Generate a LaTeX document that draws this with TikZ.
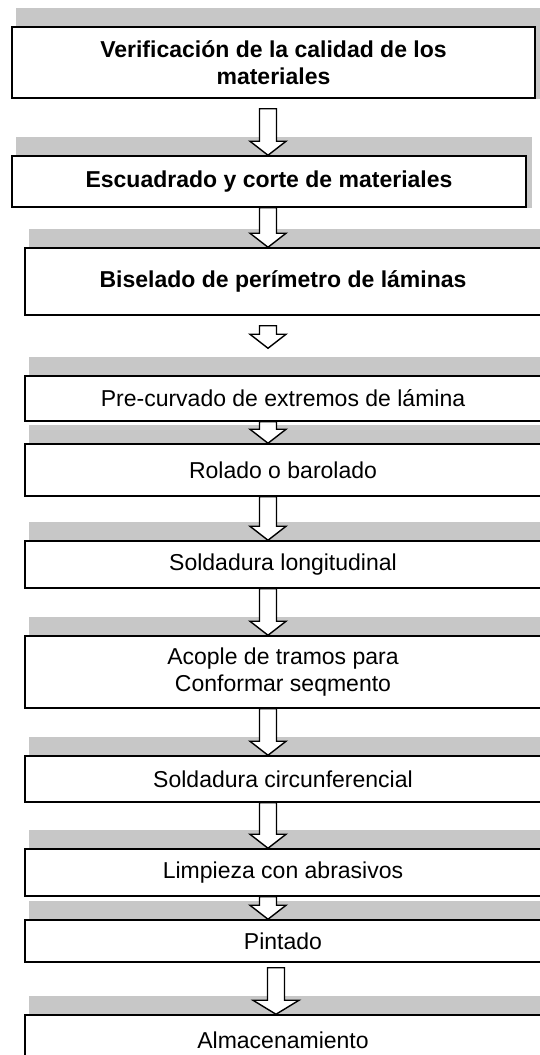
\documentclass[tikz,border=0pt]{standalone}
\usepackage{fontspec}
\setmainfont{Liberation Sans}
\usetikzlibrary{calc,backgrounds}
\tikzset{
  paso/.style={draw, line width=1.5pt, fill=white, inner sep=0pt, align=center, font=\fontsize{23}{27}\selectfont},
  pasob/.style={paso, font=\bfseries\fontsize{23}{27}\selectfont},
  franja/.style={fill=black!22},
  flecha/.style={draw, line width=1.4pt, fill=white, to path={let \p1=(\tikztostart), \p2=(\tikztotarget) in
    (\x1-\sw pt,\y1) -- (\x1-\sw pt,\y2+\hl pt) -- (\x1-\hw pt,\y2+\hl pt) -- (\x1,\y2)
    -- (\x1+\hw pt,\y2+\hl pt) -- (\x1+\sw pt,\y2+\hl pt) -- (\x1+\sw pt,\y1) -- cycle}}
}
\begin{document}
\begin{tikzpicture}[x=1pt,y=-1pt]
\pgfmathsetmacro{\sw}{8.5}
\pgfmathsetmacro{\hw}{18}
\pgfmathsetmacro{\hl}{14}
\useasboundingbox (0,0) rectangle (540,1055);
\coordinate (ax) at (268,0);
\coordinate (ax2) at (276,0);
%
\node[pasob, minimum width=523pt, minimum height=71pt] (b1) at (273.5,62.5) {Verificación de la calidad de los\\materiales};
\node[pasob, minimum width=514pt, minimum height=51pt] (b2) at (269,181.5) {Escuadrado y corte de materiales};
\node[pasob, minimum width=516pt, minimum height=67pt] (b3) at (283,281.5) {Biselado de perímetro de láminas};
\node[paso, minimum width=516pt, minimum height=45pt] (b4) at (283,398.5) {Pre-curvado de extremos de lámina};
\node[paso, minimum width=516pt, minimum height=52pt] (b5) at (283,470) {Rolado o barolado};
\node[paso, minimum width=516pt, minimum height=47pt] (b6) at (283,564.5) {Soldadura longitudinal};
\node[paso, minimum width=516pt, minimum height=72pt] (b7) at (283,672) {Acople de tramos para\\Conformar seqmento};
\node[paso, minimum width=516pt, minimum height=46pt] (b8) at (283,779) {Soldadura circunferencial};
\node[paso, minimum width=516pt, minimum height=47pt] (b9) at (283,872.5) {Limpieza con abrasivos};
\node[paso, minimum width=516pt, minimum height=42pt] (b10) at (283,941) {Pintado};
\node[paso, minimum width=516pt, minimum height=50pt] (b11) at (283,1040) {Almacenamiento};
%
\begin{scope}[on background layer]
\foreach \n in {1,...,11}
  \fill[franja] ([shift={(5pt,18pt)}]b\n.north west) rectangle ([xshift=5pt]b\n.south east);
\end{scope}
%arrows
\draw[flecha] ($(b1.south -| ax)+(0,10)$) to (b2.north -| ax);
\draw[flecha] ($(b3.south -| ax)+(0,10)$) to ($(b4.north -| ax)+(0,-27)$);
\foreach \a/\b in {b2/b3,b4/b5,b5/b6,b6/b7,b7/b8,b8/b9,b9/b10}
  \draw[flecha] (\a.south -| ax) to (\b.north -| ax);
{\pgfmathsetmacro{\hw}{23}
\draw[flecha] ($(b10.south -| ax2)+(0,5)$) to (b11.north -| ax2);}
\end{tikzpicture}
\end{document}
